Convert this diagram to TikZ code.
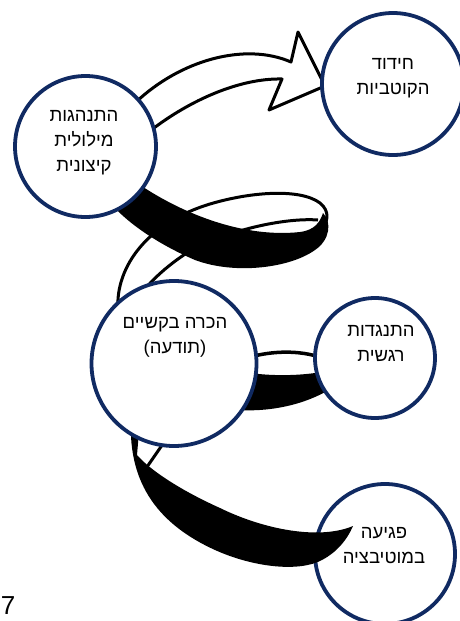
\documentclass[tikz,border=0pt]{standalone}
\usepackage{fontspec}
\newfontfamily\hebfont[Script=Hebrew]{Liberation Sans}
\TeXXeTstate=1
\newcommand{\hebline}[1]{\beginR #1\endR}
\definecolor{ringblue}{RGB}{16,42,98}
\begin{document}
\begin{tikzpicture}[x=1pt, y=-1pt,
		ring/.style={circle, draw=ringblue, line width=3.8pt, fill=white, inner sep=0pt, minimum size=#1},
		lbl/.style={align=center, inner sep=0pt, font=\hebfont\fontsize{18.5}{25}\selectfont},
		rim/.style={line width=3pt, line join=round}]

		\useasboundingbox (0, 0) rectangle (459, 621);

		\draw[rim, fill=white] (135, 103) .. controls (180, 60) and (245, 42) .. (291, 62)
			-- (298, 32) -- (325, 86) -- (269, 110) -- (282, 79)
			.. controls (240, 78) and (190, 100) .. (150, 131);

		\draw[rim] (118, 310) .. controls (115, 265) and (150, 222) .. (210, 204)
			.. controls (250, 192) and (300, 188) .. (320, 203)
			.. controls (330, 211) and (328, 222) .. (322, 228);
		\draw[rim] (318, 220) .. controls (290, 218) and (245, 226) .. (200, 245)
			.. controls (175, 259) and (152, 278) .. (138, 298);
		\fill (140, 185) .. controls (185, 215) and (245, 238) .. (300, 232)
			.. controls (315, 230) and (320, 222) .. (323, 213)
			.. controls (332, 222) and (330, 240) .. (315, 250)
			.. controls (290, 268) and (235, 275) .. (195, 260)
			.. controls (160, 245) and (130, 225) .. (112, 205) -- cycle;

		\draw[rim, line width=3.5pt] (250, 357) .. controls (280, 349) and (310, 351) .. (332, 362);
		\fill (250, 373) .. controls (280, 377) and (310, 375) .. (332, 370) -- (332, 388)
			.. controls (305, 405) and (270, 412) .. (238, 410) -- cycle;

		\draw[rim] (167, 438) -- (140, 477);

		\node[ring=140] (motiv) at (385, 554) {};
		\fill (131, 420) .. controls (128, 485) and (160, 525) .. (215, 550)
			.. controls (255, 568) and (300, 572) .. (322, 560)
			.. controls (337, 552) and (347, 540) .. (353, 526)
			.. controls (320, 540) and (265, 530) .. (220, 508)
			.. controls (180, 490) and (150, 470) .. (137, 455) -- (140, 420) -- cycle;

		\node[ring=141] (verbal) at (85.5, 146.5) {};
		\node[ring=142] (polar) at (393, 84) {};
		\node[ring=165] (aware) at (174, 363.5) {};
		\node[ring=120] (resist) at (375, 358) {};

		\node[lbl] (verbaltext) at (84, 143) {\hebline{התנהגות}\\\hebline{מילולית}\\\hebline{קיצונית}};
		\node[lbl] (polartext) at (393, 78) {\hebline{חידוד}\\\hebline{הקוטביות}};
		\node[lbl] (awaretext) at (175, 337) {\hebline{הכרה בקשיים}\\\hebline{(תודעה)}};
		\node[lbl] (resisttext) at (381, 343) {\hebline{התנגדות}\\\hebline{רגשית}};
		\node[lbl] (motivtext) at (384, 546) {\hebline{פגיעה}\\\hebline{במוטיבציה}};
		\node[inner sep=0pt, font=\hebfont\fontsize{26}{26}\selectfont] (pagenum) at (8, 606) {7};
	\end{tikzpicture}
\end{document}
